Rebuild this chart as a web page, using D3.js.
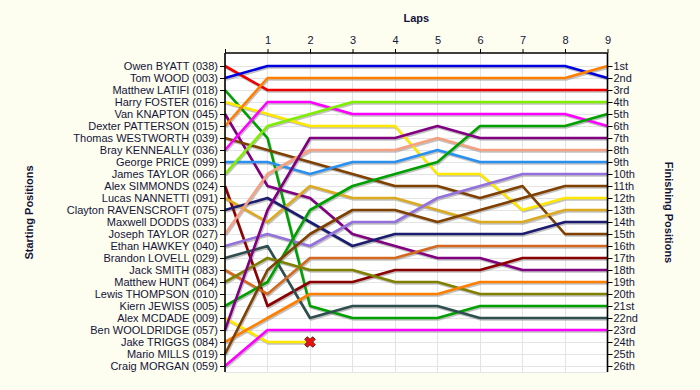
<!DOCTYPE html>
<html><head><meta charset="utf-8">
<script src="https://cdn.jsdelivr.net/npm/d3@7"></script>
<style>
body{margin:0;background:#fdfdf0;}
svg text{font-family:Arial,"Liberation Sans",sans-serif;fill:#14143a;}
</style>
</head><body>
<svg id="chart" width="700" height="390"></svg>
<script>
const lapNumbers = [0,1,2,3,4,5,6,7,8,9];
const lapTickLabels = ["","1","2","3","4","5","6","7","8","9"];
const startNames = ["Owen BYATT (038)","Tom WOOD (003)","Matthew LATIFI (018)","Harry FOSTER (016)","Van KNAPTON (045)","Dexter PATTERSON (015)","Thomas WESTWORTH (039)","Bray KENNEALLY (036)","George PRICE (099)","James TAYLOR (066)","Alex SIMMONDS (024)","Lucas NANNETTI (091)","Clayton RAVENSCROFT (075)","Maxwell DODDS (033)","Joseph TAYLOR (027)","Ethan HAWKEY (040)","Brandon LOVELL (029)","Jack SMITH (083)","Matthew HUNT (064)","Lewis THOMPSON (010)","Kiern JEWISS (005)","Alex MCDADE (009)","Ben WOOLDRIDGE (057)","Jake TRIGGS (084)","Mario MILLS (019)","Craig MORGAN (059)"];
const finishLabels = ["1st","2nd","3rd","4th","5th","6th","7th","8th","9th","10th","11th","12th","13th","14th","15th","16th","17th","18th","19th","20th","21st","22nd","23rd","24th","25th","26th"];
const lineColors = ["#ee0000","#0000dd","#00a000","#ffe800","#800080","#ff8000","#7f4000","#ff00ff","#2a90f0","#80ee00","#8b0000","#dcaa20","#1c1c70",null,"#f5a080","#9370db","#2f4f4f","#d2691e","#808000",null,"#00a000","#ffe800","#800080","#ff8000","#7f4000","#ff00ff"];
// positions at laps 0..9 for each starter (null = no line)
const lapPositions = [
  [1,3,3,3,3,3,3,3,3,3],
  [2,1,1,1,1,1,1,1,1,2],
  [3,7,21,22,22,22,21,21,21,21],
  [4,5,6,6,6,10,10,13,12,12],
  [5,11,12,15,16,17,17,18,18,18],
  [6,2,2,2,2,2,2,2,2,1],
  [7,8,9,10,11,11,12,11,15,15],
  [8,4,4,5,5,5,5,5,5,6],
  [9,9,10,9,9,8,9,9,9,9],
  [10,6,5,4,4,4,4,4,4,4],
  [11,21,19,19,18,18,18,17,17,17],
  [12,14,11,12,12,13,14,14,13,13],
  [13,12,14,16,15,15,15,15,14,14],
  null,
  [15,10,8,8,8,7,8,8,8,8],
  [16,15,16,14,14,12,11,10,10,10],
  [17,16,22,21,21,21,22,22,22,22],
  [18,20,17,17,17,16,16,16,16,16],
  [19,17,18,18,19,19,20,20,20,20],
  null,
  [21,19,13,11,10,9,6,6,6,5],
  [22,24,24],
  [23,13,7,7,7,6,7,7,7,7],
  [24,22,20,20,20,20,19,19,19,19],
  [25,18,15,13,13,14,13,12,11,11],
  [26,23,23,23,23,23,23,23,23,23]
];
const retiredFlags = [false,false,false,false,false,false,false,false,false,false,false,false,false,false,false,false,false,false,false,false,false,true,false,false,false,false];

const svg = d3.select("#chart");
const pLeft = 225, pRight = 607.5, pTop = 53, pBottom = 372;
const x = d3.scaleLinear().domain([0,9]).range([pLeft,pRight]);
const y = d3.scaleLinear().domain([1,26]).range([66,366]);
const posValues = d3.range(1,27);

svg.append("rect").attr("x",pLeft).attr("y",pTop).attr("width",pRight-pLeft).attr("height",pBottom-pTop).attr("fill","#ffffff");

// grid
const grid = svg.append("g").attr("stroke","#e4e4e4").attr("stroke-width",1).attr("shape-rendering","crispEdges");
posValues.forEach(p=>grid.append("line").attr("x1",pLeft).attr("x2",pRight).attr("y1",y(p)).attr("y2",y(p)));
grid.append("line").attr("x1",pLeft).attr("x2",pRight).attr("y1",pBottom).attr("y2",pBottom);
lapNumbers.forEach(l=>grid.append("line").attr("x1",x(l)).attr("x2",x(l)).attr("y1",pTop).attr("y2",pBottom));

// lines
const lineGen = d3.line().x((d,i)=>x(lapNumbers[i])).y(d=>y(d));
const shadows = svg.append("g").attr("transform","translate(1,1.5)");
const lines = svg.append("g");
lapPositions.forEach((pos,i)=>{
  if(!pos) return;
  shadows.append("path").attr("d",lineGen(pos)).attr("fill","none").attr("stroke","#999").attr("stroke-opacity",0.6).attr("stroke-width",2.6).attr("stroke-linejoin","round");
});
lapPositions.forEach((pos,i)=>{
  if(!pos) return;
  lines.append("path").attr("d",lineGen(pos)).attr("fill","none").attr("stroke",lineColors[i]).attr("stroke-width",2.6).attr("stroke-linejoin","round");
});
// retirement markers
lapPositions.forEach((pos,i)=>{
  if(!pos || !retiredFlags[i]) return;
  const li = pos.length-1;
  svg.append("path").attr("d",d3.symbol(d3.symbolCross,70)())
    .attr("transform",`translate(${x(lapNumbers[li])},${y(pos[li])}) rotate(45)`)
    .attr("fill","#ee1111").attr("stroke","#550000").attr("stroke-width",0.8);
});

// axes
const topAxis = d3.axisTop(x).tickValues(lapNumbers).tickFormat((d,i)=>lapTickLabels[i]).tickSize(4).tickSizeOuter(0);
const gTop = svg.append("g").attr("transform",`translate(0,${pTop})`).call(topAxis);
gTop.select(".domain").remove();
gTop.selectAll("text").attr("font-size",11).attr("dy","-0.15em");

const leftAxis = d3.axisLeft(y).tickValues(posValues).tickFormat(d=>startNames[d-1]).tickSize(5).tickSizeOuter(0);
const gLeft = svg.append("g").attr("transform",`translate(${pLeft},0)`).call(leftAxis);
gLeft.select(".domain").remove();
gLeft.selectAll("text").attr("font-size",11).attr("x",-7);

const rightAxis = d3.axisRight(y).tickValues(posValues).tickFormat(d=>finishLabels[d-1]).tickSize(5).tickSizeOuter(0);
const gRight = svg.append("g").attr("transform",`translate(${pRight},0)`).call(rightAxis);
gRight.select(".domain").remove();
gRight.selectAll("text").attr("font-size",11).attr("x",6);

svg.selectAll(".tick line").attr("stroke","#000");

// border lines
const border = svg.append("g").attr("stroke","#000").attr("stroke-width",1.6);
border.append("line").attr("x1",pLeft).attr("x2",pLeft).attr("y1",pTop).attr("y2",pBottom);
border.append("line").attr("x1",pRight).attr("x2",pRight).attr("y1",pTop).attr("y2",pBottom);
border.append("line").attr("x1",pLeft).attr("x2",pRight).attr("y1",pTop).attr("y2",pTop);

// titles
svg.append("text").attr("x",(pLeft+pRight)/2).attr("y",22).attr("text-anchor","middle").attr("font-size",11).attr("font-weight","bold").text("Laps");
svg.append("text").attr("transform",`translate(33,${(pTop+pBottom)/2}) rotate(-90)`).attr("text-anchor","middle").attr("font-size",11).attr("font-weight","bold").text("Starting Positions");
svg.append("text").attr("transform",`translate(665,${(pTop+pBottom)/2}) rotate(90)`).attr("text-anchor","middle").attr("font-size",11).attr("font-weight","bold").text("Finishing Positions");
</script>
</body></html>
